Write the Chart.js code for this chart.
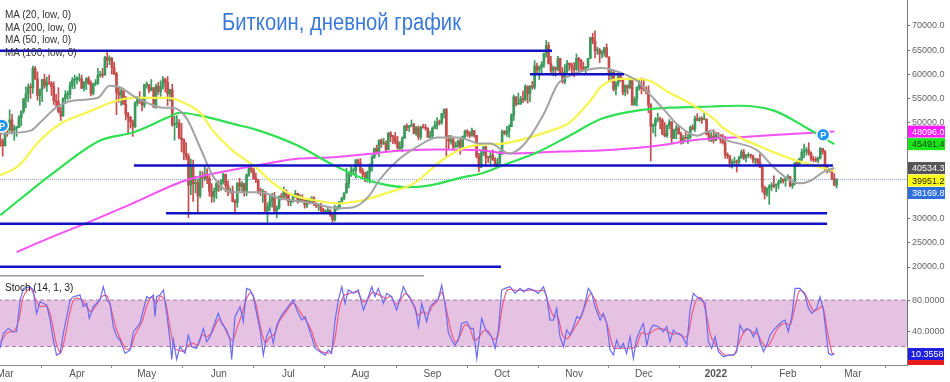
<!DOCTYPE html>
<html><head><meta charset="utf-8">
<script src="https://cdn.jsdelivr.net/npm/chart.js@4.4.0/dist/chart.umd.min.js"></script>
<style>
html,body{margin:0;padding:0;background:#fff;}
#wrap{position:relative;width:950px;height:382px;overflow:hidden;}
canvas{display:block;}
.t{position:absolute;font-family:"Liberation Sans",Arial,sans-serif;white-space:nowrap;transform-origin:0 0;}
</style></head><body>
<div id="wrap"><canvas id="c" width="950" height="382"></canvas>
<div class="t" id="title" style="left:222px;top:9px;font-size:23px;color:#3b78d8;transform:scaleX(0.88);">Биткоин, дневной график</div>
<div class="t" style="left:5px;top:9px;font-size:10px;color:#333;line-height:12.6px;">MA (20, low, 0)<br>MA (200, low, 0)<br>MA (50, low, 0)<br>MA (100, low, 0)</div>
<div class="t" style="left:5px;top:282px;font-size:10px;color:#222;">Stoch (14, 1, 3)</div>
</div>
<script>
// ---- daily candles, day 0 = 1 Mar 2021, first candle = 27 Feb 2021 ----
const startDay = -2;
const firstOpen = 46300;
const closes = [
46150,45150,
49600,48400,50500,48400,48800,48900,51000,52300,54900,55900,57300,57200,61200,59000,55600,56900,58900,57600,58300,58100,57400,54500,54300,52300,51300,55000,55800,55800,57600,58800,58900,
59000,59000,57100,58200,59100,58000,56000,58100,58100,59800,60000,59800,63500,62900,63300,61400,60100,56200,55700,56500,53800,51700,51100,50100,49100,54000,55000,54800,53600,57800,
57800,56600,57200,53200,57500,56400,57400,58900,58300,55900,56800,49500,49700,49900,46800,46400,43600,42900,37000,40800,37300,37500,34800,39000,38400,39300,38400,35700,34600,35700,37300,
36700,37600,39200,36900,35600,35800,33600,33400,37400,36700,37300,35600,39100,40500,40200,38400,38100,35800,35500,35600,31600,32500,33700,34700,31600,32200,34700,34500,35900,35000,
33500,33800,34700,35300,33700,34200,33900,32900,33800,33500,34300,33100,32700,32800,31900,31400,31500,31800,30800,29800,32100,32300,33600,34300,35400,37300,39400,40000,40000,42200,41600,
39900,39200,38200,39700,40900,42800,44600,43800,46300,45600,45600,44400,47800,47100,47000,45900,44700,44800,46700,49300,48900,49300,49500,47700,48900,47000,49000,48900,48800,46900,47200,
48800,49300,50000,49900,51800,52700,46900,46100,46400,44900,45200,46100,44900,47100,48200,47800,47300,48300,47300,43000,40700,43600,44900,42800,42700,43200,42200,41000,41500,43800,
48100,47700,48200,49100,51500,55300,53800,53900,54900,54700,57500,56000,57400,57300,61700,60900,61500,62000,64300,66000,62200,60700,61400,61000,63200,60300,58500,60600,62300,61900,61300,
61000,63300,62900,61400,61000,61500,63300,67600,66900,64900,64900,64200,64400,65500,63600,60100,60400,56900,58100,59700,58700,56300,57600,57200,58900,53600,54800,57300,57800,57000,
56900,56500,53600,49200,49400,50600,50600,50500,47700,47200,49400,50100,46700,48400,48900,47600,46200,46800,46700,46900,49000,48600,50800,50400,50800,50600,50700,47500,46500,47100,46200,
47700,47300,46400,45800,43400,43100,41500,41700,41900,41800,42700,43900,42600,43100,43200,43100,42200,42400,41700,40700,36500,35100,36300,36700,37000,36800,37200,37700,38200,37900,38500,
38700,36900,37300,41600,41400,42400,43800,44100,44300,43600,42400,42200,42100,42600,44600,43900,40500,40000,40100,38400,37000,38200];
const highs = [
48400,46600,
49800,50100,52600,51700,49400,49200,51400,52400,54900,57400,58000,58000,61700,61600,60500,56900,58900,60000,59400,59800,58500,58400,55800,57200,53200,55100,56600,56500,58400,59300,59800,
59500,60100,59800,58500,59300,59500,58600,58100,58900,61200,60600,61200,63700,64800,63800,63500,62500,60400,57500,57000,56800,55400,52100,51200,50500,54300,55400,56400,55200,57900,
58400,57900,58900,57100,57900,58300,58600,59500,59200,59500,56900,57900,51300,51400,50600,49800,46600,45800,43500,42400,42200,38800,38200,39900,39800,40800,40400,38900,37300,36400,37500,
37900,38200,39500,39300,37900,36400,36800,34000,37500,38400,37700,37400,39300,41000,41300,40500,39500,38200,36400,36100,35700,33300,34800,35300,35500,32700,34700,35300,36600,36000,
35000,33900,34900,35900,35300,35000,35000,33900,34100,34200,34600,34600,33300,33100,33200,32200,31900,32400,31900,31100,32800,32600,33600,34500,35400,40500,39500,40800,40600,42300,42400,
42500,40400,39700,39900,41400,43100,44700,45300,46400,46600,46700,46200,47900,48100,47300,47900,47100,46000,47000,49300,49700,49400,50500,49800,49200,49300,49200,49600,49600,48900,48200,
49100,50300,51000,50500,51900,52800,52900,47300,47300,47000,45900,46400,46700,47200,48400,48500,48100,48800,48300,47300,43600,44000,45000,45100,42900,43900,44300,42700,42600,44100,
48400,48300,49200,49500,51800,55700,55300,56100,55400,56500,57800,57600,57700,58500,62800,62300,61700,62600,64400,67000,66600,63700,61700,61500,63700,63300,61400,62000,62900,62300,62300,
62400,64200,63500,63100,62500,61600,63300,67700,68500,69000,65600,65400,65000,65600,66300,63600,60800,60900,58400,59800,60000,59200,57800,57800,59400,59200,55300,57400,58800,59200,
59000,57400,57600,53900,49700,51000,51900,51100,50800,50000,49500,50600,50200,48600,49400,49400,48000,47300,48300,47500,49300,49500,51300,51800,51100,51200,52000,50700,48100,47900,48500,
47900,47900,47500,47500,47100,43700,43100,42300,42800,42200,43000,44300,44400,43400,43700,43400,43200,42600,42500,43500,41100,36800,36500,37100,37500,38900,37200,38000,38600,38300,38700,
39200,38800,37400,41700,41900,42600,44500,45500,44800,45800,43900,43000,42800,42800,44800,44600,44200,40900,40400,40100,39400,38300];
const lows = [
45000,43000,
45100,47100,48100,47600,46300,47100,48900,49300,51900,53000,54300,55000,56000,58900,54600,53600,54300,57100,56400,57900,55600,53700,53100,52000,50400,51300,53900,54700,54900,57000,57000,
58000,58500,57000,56500,56800,57900,55500,55700,57600,57900,59400,59300,59800,61400,62000,60000,59900,51600,54200,53500,53700,50500,47600,48800,47100,48900,53400,53900,52400,53100,
57100,56100,56500,53100,52900,55800,55400,56900,56300,53500,54400,49200,46300,48900,46600,43900,42200,42300,30200,35000,33600,35400,31200,34400,36500,37900,37300,34700,33400,33500,34200,
35700,35900,37200,35600,34800,35300,33500,31000,32400,35800,35700,34700,34800,38800,39600,38200,37500,35200,34800,33400,31300,28800,31700,32400,31300,30200,32000,33900,34300,34000,
32700,32700,33400,34400,33200,33600,33800,32200,32300,33100,33300,32700,32300,31700,31200,31100,31200,31300,30500,29300,29500,31800,32000,33400,33900,35300,36400,38800,39200,38400,41100,
39500,38700,37700,37600,37400,39900,42500,43400,42900,44800,45400,43800,44300,46000,45600,45500,44400,44300,43900,46700,48300,48100,49100,47600,47300,46400,46500,48800,48400,46900,46800,
46600,48700,48600,49500,49600,50900,43000,44500,45500,44400,44800,44800,43400,44700,46800,47100,46800,47100,46900,42600,39800,40600,43100,40800,41700,40900,42100,40900,40800,41400,
43300,47400,47100,46900,49100,50400,53400,53700,53700,54100,54400,54000,54300,56900,56900,60200,58900,60100,61400,63500,62100,60000,59700,59600,60700,60100,58100,58000,60300,60800,60000,
59500,60700,60400,60700,60800,60200,61300,63200,66300,63400,64100,62400,63400,63700,63500,58600,58400,56500,55700,57500,58500,55700,55500,55900,57000,53600,53700,53400,56700,55900,
56500,55900,52000,42000,47800,47100,50100,48700,47400,47000,46900,48700,45700,46600,46600,47600,45500,45600,46500,45600,46600,48400,48100,50400,50200,49800,50500,47400,46100,46000,45700,
46200,46700,45700,45500,42600,42500,40700,40500,41300,39700,41300,42500,42300,41800,42700,42600,41600,41300,41200,40600,35500,34100,34700,33000,35800,36400,35600,36200,37400,37400,36700,
38000,36600,36300,37000,40900,41100,41700,42700,43200,43200,42000,41800,41800,41600,42400,43400,40100,39500,39700,38100,36800,36400];

// ---- x axis ----
const monthDays = [0,31,61,92,122,153,184,214,245,275,306,337,365];
const monthLabels = ['Mar','Apr','May','Jun','Jul','Aug','Sep','Oct','Nov','Dec','2022','Feb','Mar'];

// ---- moving averages ----
const ma20Days = [-2,11,16,22,29,40,45,50,55,62,68,72,78,84,90,98,110,118,133,143,150,157,161,169,177,186,195,205,209,217,223,232,238,243,257,265,272,278,284,289,298,304,309,324,331,338,342,347,352,357];
const ma20Vals = [47700,48300,50400,53050,54500,55100,57600,57200,55550,53900,53050,53050,51000,44800,38500,35500,35500,34250,33200,32200,32400,34900,37950,42100,44800,46850,46850,45600,45600,43550,45200,51800,58000,59650,61300,60300,58650,55600,52500,49750,47250,48300,46650,44150,40650,37950,37350,37950,39650,40534];
const ma50Days = [-2,6,15,24,35,48,55,70,75,84,89.5,98,108,115,123,133,144,154,164,176,188,197,205,214,235,243,252,257,265,276,286,295,306,309,324,338,345,357];
const ma50Vals = [39000,41050,46250,49750,52000,54500,55100,55100,54500,52000,48300,44150,40650,37550,35100,33850,33200,33850,35300,37350,42100,44600,45400,45600,48300,49950,54500,57600,59050,58850,56150,53900,50400,48900,45200,42500,41500,39951];
const ma100Days = [-2,21,41,55,70,75,84,101,108,126,140,154,161,173,183,197,205,214,229,243,257,272,286,304,316,331,345,357];
const ma100Vals = [30750,39600,46250,47900,51000,52000,51400,49350,48500,45200,41500,38400,37350,36550,36950,38600,39400,41050,43750,47250,50800,52450,53050,53300,53450,52450,48900,45491];
const ma200Days = [5,19,35,54,78,101,111,127,140,154,170,187,205,217,239,256,278,299,321,342,357];
const ma200Vals = [23100,26000,29100,33000,38000,40450,41300,42500,42700,43350,44100,44400,44200,43550,43950,44150,45000,46450,47050,47700,48096];

// ---- horizontal levels ----
const hlPrice = [64850,60000,41050,31150,28950,20050];
const hlFrom  = [-3,226,55.5,69.3,-3,-3];
const hlTo    = [235.5,266.5,356.4,353.9,353.9,213.5];
const paneLinePrice = 18200, paneLineTo = 180.4;
const lastPrice = 38169.8;

// ---- axis ticks ----
const priceTicks = [20000,25000,30000,35000,40000,45000,50000,55000,60000,65000,70000];
const stochTicks = [40,80];
const stochBand = [80,20];

// ---- stochastic (14,1,3) ----
const kDays = [-2.2,-0.7,1.4,3.6,5.0,6.5,7.9,10.8,12.2,13.6,
15.1,18.0,19.4,20.8,22.2,23.7,25.1,26.6,28.0,29.4,
32.3,33.7,35.2,36.3,38.0,40.9,42.3,43.8,45.2,46.6,
48.1,49.5,51.7,53.8,55.3,58.1,61.0,62.4,63.9,64.6,
65.3,66.7,68.2,69.6,71.0,71.8,72.5,73.9,75.3,77.5,
78.9,80.4,82.5,84.0,85.4,86.8,88.3,89.7,91.8,93.3,
95.4,96.9,97.6,99.0,101.2,102.6,104.0,105.5,106.9,108.3,
109.8,111.2,112.6,114.1,115.5,117.0,119.1,121.3,124.1,125.6,
127.7,129.2,130.6,132.0,133.5,135.6,137.8,139.2,140.6,142.1,
143.5,145.0,146.4,147.8,150.0,152.1,154.3,155.7,157.9,159.3,
160.7,162.9,164.3,166.5,168.6,170.1,171.5,172.9,175.1,176.5,
178.0,179.4,181.5,183.0,184.4,186.6,188.0,189.4,190.9,192.3,
193.7,195.2,196.6,198.8,200.2,201.6,203.1,205.2,206.7,208.1,
209.5,211.0,212.4,213.8,215.3,217.4,219.6,221.7,223.2,225.3,
227.5,229.6,231.8,233.2,234.6,236.1,237.5,238.9,240.4,241.8,
243.3,244.7,246.1,247.6,249.0,251.1,252.6,254.0,256.2,257.6,
259.0,260.5,261.9,263.3,264.8,266.2,267.6,269.1,270.5,271.9,
273.4,274.8,276.3,277.7,279.1,281.3,283.4,284.9,286.3,287.7,
289.2,291.3,293.5,294.9,296.3,297.8,299.9,301.4,302.8,304.2,
305.7,307.1,309.3,311.4,313.6,315.0,316.4,317.9,319.3,320.7,
322.2,323.6,325.0,326.5,327.9,329.4,330.8,332.2,334.4,335.8,
337.2,338.7,340.1,342.3,344.4,345.9,347.3,349.4,350.9,352.3,
354.5,355.9,357.0];
const kVals = [17.6,37.0,43.4,39.1,39.1,80.0,95.0,97.2,92.9,62.8,
77.8,73.5,54.2,28.4,9.0,11.2,37.0,58.5,80.0,84.3,
86.4,71.4,75.7,56.3,71.4,80.0,97.2,80.0,75.7,45.6,
32.7,28.4,11.2,15.5,39.1,49.9,84.3,82.1,86.4,58.5,
84.3,86.4,92.9,62.8,28.4,3.5,28.4,3.5,19.8,11.2,
34.8,19.8,17.6,30.5,43.4,26.2,32.7,45.6,62.8,49.9,
41.3,28.4,3.5,58.5,71.4,52.0,95.0,92.9,84.3,62.8,
41.3,9.0,32.7,43.4,24.1,47.7,60.6,69.2,80.0,67.1,
54.2,58.5,45.6,32.7,17.6,13.3,9.0,15.5,11.2,54.2,
80.0,97.2,75.7,92.9,88.6,92.9,67.1,77.8,97.2,84.3,
95.0,75.7,88.6,84.3,67.1,82.1,97.2,88.6,77.8,71.4,
45.6,75.7,52.0,71.4,75.7,82.1,99.3,75.7,37.0,28.4,
21.9,28.4,49.9,52.0,43.4,43.4,4.7,56.3,43.4,37.0,
32.7,17.6,41.3,92.9,95.0,97.2,88.6,95.0,90.7,95.0,
92.9,88.6,97.2,84.3,54.2,54.2,69.2,32.7,19.8,41.3,
34.8,45.6,58.5,56.3,67.1,95.0,88.6,71.4,54.2,62.8,
49.9,15.5,9.0,28.4,17.6,24.1,11.2,32.7,4.7,30.5,
41.3,49.9,21.9,41.3,47.7,45.6,39.1,45.6,26.2,41.3,
37.0,34.8,21.9,67.1,88.6,84.3,80.0,75.7,26.2,17.6,
32.7,13.3,6.9,9.0,9.0,13.3,47.7,39.1,43.4,41.3,
32.7,43.4,26.2,13.3,21.9,34.8,41.3,45.6,52.0,54.2,
39.1,58.5,95.0,95.0,86.4,69.2,62.8,69.2,84.3,67.1,
11.2,9.0,10.3558];
const dDays = [-2,1,4,6,8,11,13,15,18,20,22,24,26,28,30,33,35,37,39,42,44,46,48,50,52,54,56,59,61,63,65,67,69,71,73,75,77,79,81,83,85,87,89,92,94,96,98,100,102,104,106,108,110,112,114,116,118,121,124,126,128,130,132,134,136,138,140,142,144,146,148,150,152,154,156,158,160,162,164,166,168,170,172,174,176,178,180,182,184,186,188,190,192,194,196,198,200,202,204,206,208,210,212,214,216,218,220,222,224,226,228,230,232,234,236,238,240,242,244,246,248,250,252,254,256,258,260,262,264,266,268,270,272,274,276,278,280,282,284,286,288,290,292,294,296,298,300,302,304,306,308,310,312,314,316,318,320,322,324,326,328,330,332,334,336,338,340,342,344,346,348,350,352,354,356,357];
const dVals = [25,38,40,55,85,95,82,72,72,55, 25,12,35,65,82,80,72,65,72,85, 85,65,42,28,17,18,35,52,72,84, 76,85,78,45,18,15,14,22,24,22,
35,33,38,55,48,35,28,45,62,82, 90,75,45,25,32,36,52,65,76,70, 60,52,40,22,14,12,12,30,70,86, 88,90,90,78,80,90,88,85,82,85,
75,78,88,85,72,60,65,62,72,78, 90,68,40,26,35,48,45,28,32,40, 40,30,32,70,92,94,92,93,92,93, 92,92,92,75,60,58,35,30,38,48,
58,75,88,80,62,58,40,18,18,18, 18,18,22,38,36,38,42,43,42,38, 36,37,32,35,65,82,82,60,32,22, 14,9,9,10,25,38,42,38,36,25,
20,28,40,48,50,48,70,92,90,78, 66,68,72,40,12,10];

// ---- right-axis value tags ----
const tagVals = [48096.0,45491.4,40534.3,39951.2,38169.8];
const tagBg = ['#ff1cff','#19e619','#555555','#ffff1a','#2d6fdc'];
const tagFg = ['#ffffff','#1a3a1a','#ffffff','#222222','#ffffff'];
// ---- "P" markers ----
const pDays = [-1.3,352.2];
const pPrices = [49350,47450];

// ---------------------------------------------------------
const UP = '#3a9a5c', DOWN = '#c64b4b';
const N = closes.length;
const opens = closes.map((c,i)=> i===0 ? firstOpen : closes[i-1]);
const bodyData = closes.map((c,i)=>({x:startDay+i, y:[opens[i], c]}));
const wickData = closes.map((c,i)=>({x:startDay+i, y:[Math.min(lows[i],opens[i],c), Math.max(highs[i],opens[i],c)]}));
const candleColors = closes.map((c,i)=> c>=opens[i] ? UP : DOWN);
const pts = (d,v)=> d.map((x,i)=>({x:x, y:v[i]}));

const FONT = '"Liberation Sans", Arial, sans-serif';
Chart.defaults.font.family = FONT;

function lineDs(data, axis, color, width, extra){
  return Object.assign({type:'line', data:data, xAxisID:'x', yAxisID:axis, borderColor:color, borderWidth:width,
    pointRadius:0, pointHoverRadius:0, fill:false, tension:0}, extra||{});
}

const datasets = [
  lineDs(pts(kDays,kVals),'y2','#6b6bf0',1.2),
  lineDs(pts(dDays,dVals),'y2','#f05a80',1.2,{tension:0.3}),
  lineDs([{x:-3,y:stochBand[0]},{x:392,y:stochBand[0]}],'y2','#a47aa4',1,{borderDash:[4,3]}),
  lineDs([{x:-3,y:stochBand[1]},{x:392,y:stochBand[1]}],'y2','#a47aa4',1,{borderDash:[4,3], fill:'-1', backgroundColor:'#e5c2e2'}),
];
hlPrice.forEach((p,i)=> datasets.push(lineDs([{x:hlFrom[i],y:p},{x:hlTo[i],y:p}],'y','#1212c4',2.5)));
datasets.push(lineDs(pts(ma20Days,ma20Vals),'y','#a3a3a3',2,{cubicInterpolationMode:'monotone'}));
datasets.push(lineDs(pts(ma50Days,ma50Vals),'y','#f6f64a',2.2,{cubicInterpolationMode:'monotone'}));
datasets.push(lineDs(pts(ma100Days,ma100Vals),'y','#2ee052',2.2,{cubicInterpolationMode:'monotone'}));
datasets.push(lineDs(pts(ma200Days,ma200Vals),'y','#f552f5',2,{cubicInterpolationMode:'monotone'}));
datasets.push({type:'bar', data:bodyData, xAxisID:'x', yAxisID:'y', grouped:false, barThickness:2, minBarLength:1,
  backgroundColor:candleColors, borderWidth:0});
datasets.push({type:'bar', data:wickData, xAxisID:'x', yAxisID:'y', grouped:false, barThickness:1,
  backgroundColor:candleColors, borderWidth:0});
datasets.push(lineDs([{x:-3,y:lastPrice},{x:392,y:lastPrice}],'y','#8c9ad6',1,{borderDash:[1,1]}));
datasets.push(lineDs([{x:-3,y:paneLinePrice},{x:paneLineTo,y:paneLinePrice}],'y','#9a9a9a',1.5,{clip:4}));

const overlay = {
  id:'overlay',
  afterDraw(chart){
    const ctx = chart.ctx, xs = chart.scales.x, ys = chart.scales.y, y2 = chart.scales.y2;
    const left = chart.chartArea.right + 1;
    ctx.save();
    pDays.forEach((d,i)=>{
      const px = xs.getPixelForValue(d), py = ys.getPixelForValue(pPrices[i]);
      ctx.beginPath(); ctx.arc(px,py,6.5,0,Math.PI*2);
      ctx.fillStyle='#2196f3'; ctx.fill();
      ctx.lineWidth=1.5; ctx.strokeStyle='#ffffff'; ctx.stroke();
      ctx.fillStyle='#ffffff'; ctx.font='bold 9px '+FONT; ctx.textAlign='center'; ctx.textBaseline='middle';
      ctx.fillText('P',px,py+0.5);
    });
    let prev = -1e9;
    ctx.font = '9px '+FONT; ctx.textAlign='left'; ctx.textBaseline='middle';
    tagVals.forEach((v,i)=>{
      let cy = ys.getPixelForValue(v);
      if (cy < prev + 12.5) cy = prev + 12.5;
      prev = cy;
      ctx.fillStyle = tagBg[i]; ctx.fillRect(left, cy-6, 37, 12);
      ctx.fillStyle = tagFg[i]; ctx.fillText(v.toFixed(1), left+4, cy+0.5);
    });
    const kLast = kVals[kVals.length-1];
    let ky = y2.getPixelForValue(kLast);
    ctx.fillStyle = '#1f1fe0'; ctx.fillRect(left, ky-6, 36, 12);
    ctx.fillStyle = '#e81c1c'; ctx.fillRect(left, ky+6, 36, Math.max(0, chart.chartArea.bottom - (ky+6)));
    ctx.fillStyle = '#ffffff'; ctx.fillText(kLast.toFixed(4), left+3, ky+0.5);
    ctx.restore();
  }
};

new Chart(document.getElementById('c'), {
  type:'bar',
  data:{datasets:datasets},
  plugins:[overlay],
  options:{
    responsive:false, maintainAspectRatio:false, animation:false, events:[],
    layout:{padding:0},
    plugins:{legend:{display:false}, tooltip:{enabled:false}, title:{display:false}},
    scales:{
      x:{type:'linear', position:'bottom', min:-2.15, max:388.3, offset:false,
        grid:{display:true, drawOnChartArea:false, drawTicks:true, tickLength:3, color:'#8a8a8a'},
        border:{display:true, color:'#8a8a8a'},
        ticks:{autoSkip:false, maxRotation:0, padding:0, color:'#555',
          font:(c)=>({size:10, family:FONT, weight:(c.tick && c.tick.value===306)?'bold':'normal'}),
          callback:(v)=>{const k=monthDays.indexOf(v); return k>=0?monthLabels[k]:'';}},
        afterBuildTicks:(s)=>{s.ticks = monthDays.map(v=>({value:v}));},
        afterFit:(s)=>{s.height=17; s.paddingLeft=0; s.paddingRight=0;}
      },
      y:{type:'linear', position:'right', stack:'panes', stackWeight:276, min:18133, max:75394, offset:false,
        grid:{display:true, drawOnChartArea:false, drawTicks:true, tickLength:3, color:'#777'},
        border:{display:true, color:'#777'},
        ticks:{includeBounds:false, color:'#666', padding:2, font:{size:9, family:FONT}, callback:(v)=>Number(v).toFixed(1)},
        afterBuildTicks:(s)=>{s.ticks = priceTicks.map(v=>({value:v}));},
        afterFit:(s)=>{s.width=43; s.paddingTop=0; s.paddingBottom=0;}
      },
      y2:{type:'linear', position:'right', stack:'panes', stackWeight:89, min:-3.8, max:111, offset:false,
        grid:{display:true, drawOnChartArea:false, drawTicks:true, tickLength:3, color:'#777'},
        border:{display:true, color:'#777'},
        ticks:{includeBounds:false, color:'#666', padding:2, font:{size:9, family:FONT}, callback:(v)=>Number(v).toFixed(4)},
        afterBuildTicks:(s)=>{s.ticks = stochTicks.map(v=>({value:v}));},
        afterFit:(s)=>{s.width=43; s.paddingTop=0; s.paddingBottom=0;}
      }
    }
  }
});
</script>
</body></html>
